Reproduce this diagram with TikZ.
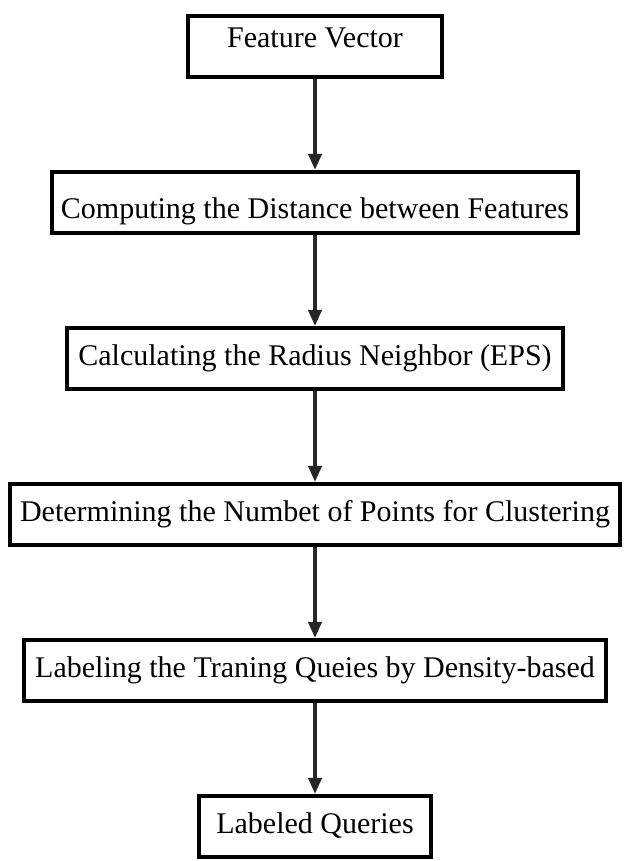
\documentclass[tikz,border=0pt]{standalone}
\usepackage{fontspec}
\setmainfont{Liberation Serif}
\usepackage{tikz}
\usetikzlibrary{positioning}
\usetikzlibrary{arrows.meta}

\begin{document}
\begin{tikzpicture}[
		  x=0.75pt, y=0.75pt,
		  every node/.style = {shape=rectangle, draw, line width=3pt, align=center, minimum height=46pt, inner sep=2pt, text height=16pt, text depth=5pt, font=\fontsize{22.5}{26}\selectfont},
		  flow/.style = {draw=black!85, line width=2.5pt, -{Triangle[length=12pt, width=10pt]}},
		  node distance=68pt
		]

		  \useasboundingbox (0,0) rectangle (625,-861);

		  \node[minimum width=190pt, text height=11pt, text depth=10pt] (feat) at (315,-46.5) {Feature Vector};
		  \node[minimum width=395pt, text height=24pt, text depth=0pt, below=of feat] (dist) {Computing the Distance between Features};
		  \node[minimum width=372pt, below=of dist] (eps) {Calculating the Radius Neighbor (EPS)};
		  \node[minimum width=457pt, below=of eps] (minpts) {Determining the Numbet of Points for Clustering};
		  \node[minimum width=437pt, below=of minpts] (label) {Labeling the Traning Queies by Density-based};
		  \node[minimum width=174pt, below=of label] (out) {Labeled Queries};

		  \draw[flow] (feat) -- (dist);
		  \draw[flow] (dist) -- (eps);
		  \draw[flow] (eps) -- (minpts);
		  \draw[flow] (minpts) -- (label);
		  \draw[flow] (label) -- (out);
		\end{tikzpicture}
\end{document}
